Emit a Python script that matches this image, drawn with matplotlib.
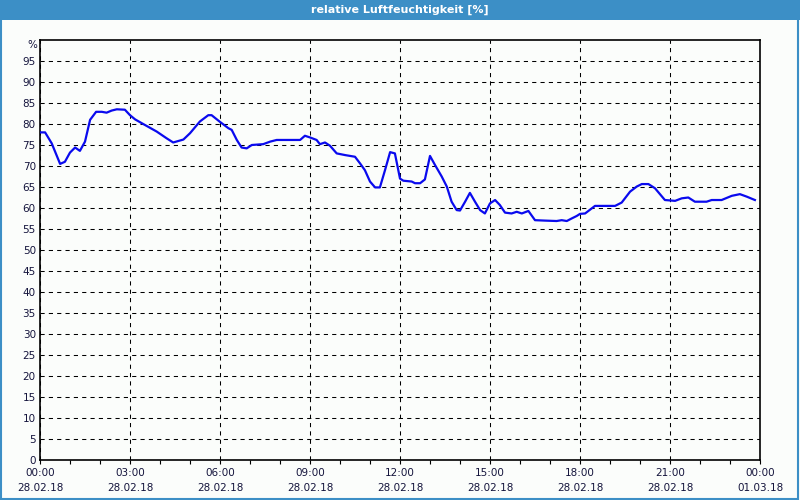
import matplotlib.pyplot as plt
from matplotlib.patches import Rectangle

# Data: hours since 28.02.18 00:00, relative humidity in %
hours = [0.0, 0.17, 0.39, 0.67, 0.83, 1.0, 1.17, 1.33, 1.5, 1.67, 1.87, 2.06, 2.22,
         2.39, 2.56, 2.83, 3.0, 3.17, 3.44, 3.89, 4.22, 4.44, 4.78, 5.0, 5.33, 5.61,
         5.72, 6.0, 6.28, 6.39, 6.56, 6.72, 6.89, 7.06, 7.44, 7.67, 7.89, 8.67, 8.83,
         9.0, 9.22, 9.33, 9.5, 9.67, 9.89, 10.17, 10.5, 10.67, 10.83, 11.0, 11.17,
         11.33, 11.5, 11.67, 11.83, 12.0, 12.11, 12.39, 12.5, 12.67, 12.83, 13.0,
         13.17, 13.39, 13.56, 13.72, 13.89, 14.0, 14.17, 14.33, 14.5, 14.67, 14.83,
         15.0, 15.17, 15.33, 15.5, 15.72, 15.89, 16.06, 16.28, 16.5, 16.83, 17.22,
         17.39, 17.56, 17.72, 17.89, 18.0, 18.17, 18.5, 19.17, 19.39, 19.67, 19.89,
         20.06, 20.28, 20.5, 20.83, 21.17, 21.39, 21.61, 21.83, 22.22, 22.39, 22.72,
         23.06, 23.33, 23.56, 23.83]
humidity = [78.0, 78.0, 75.4, 70.5, 71.0, 73.2, 74.4, 73.6, 75.8, 81.0, 82.9, 82.9, 82.7,
            83.2, 83.5, 83.4, 82.1, 81.1, 80.0, 78.2, 76.6, 75.6, 76.3, 77.8, 80.6, 82.1,
            82.1, 80.5, 79.0, 78.6, 76.2, 74.4, 74.2, 75.0, 75.2, 75.8, 76.2, 76.2, 77.2,
            76.8, 76.2, 75.2, 75.6, 74.8, 73.0, 72.6, 72.2, 70.6, 69.0, 66.3, 64.9,
            64.9, 69.0, 73.3, 73.0, 67.0, 66.5, 66.3, 65.9, 65.9, 66.8, 72.4,
            70.2, 67.5, 65.1, 61.5, 59.5, 59.4, 61.5, 63.6, 61.5, 59.5, 58.7,
            61.1, 61.9, 60.7, 58.9, 58.7, 59.1, 58.7, 59.3, 57.1, 57.0, 56.9,
            57.1, 56.9, 57.5, 58.1, 58.6, 58.7, 60.5, 60.5, 61.3, 63.9, 65.1,
            65.7, 65.7, 64.7, 61.9, 61.7, 62.3, 62.5, 61.5, 61.5, 61.9, 61.9,
            62.9, 63.3, 62.7, 61.9]

tick_hours = list(range(0, 25, 3))
tick_labels = ['00:00\n28.02.18', '03:00\n28.02.18', '06:00\n28.02.18', '09:00\n28.02.18',
               '12:00\n28.02.18', '15:00\n28.02.18', '18:00\n28.02.18', '21:00\n28.02.18',
               '00:00\n01.03.18']
y_ticks = list(range(0, 100, 5))

text_color = '#14143c'
bar_color = '#3c8fc6'

fig = plt.figure(figsize=(8, 5), dpi=100, facecolor='#fbfdfb')

# title bar and window frame
fig.patches.append(Rectangle((0, 0.96), 1, 0.04, transform=fig.transFigure,
                             facecolor=bar_color, edgecolor='none', zorder=0))
fig.patches.append(Rectangle((0.001, 0.002), 0.997, 0.996, transform=fig.transFigure,
                             facecolor='none', edgecolor=bar_color, linewidth=1.5, zorder=0))
fig.text(0.5, 0.98, 'relative Luftfeuchtigkeit [%]', color='white', fontsize=8,
         fontweight='bold', ha='center', va='center')

ax = fig.add_axes([0.05, 0.08, 0.90, 0.84])
ax.set_facecolor('#fbfdfb')
ax.plot(hours, humidity, color='#0a0aee', linewidth=1.6, zorder=3)

ax.set_xlim(0, 24)
ax.set_ylim(0, 100)
ax.set_xticks(tick_hours)
ax.set_xticklabels(tick_labels, fontsize=7.5, color=text_color, linespacing=1.6)
ax.set_xticks(range(0, 25), minor=True)
ax.set_yticks(y_ticks)
ax.set_yticklabels([str(v) for v in y_ticks], fontsize=7.5, color=text_color)
ax.tick_params(axis='x', which='both', direction='out', length=3, width=0.8, pad=3)
ax.tick_params(axis='y', length=0, pad=3)
ax.text(-0.004, 98.8, '%', transform=ax.get_yaxis_transform(), fontsize=7.5,
        color=text_color, ha='right', va='center')

ax.grid(True, which='major', color='black', linestyle=(0, (4, 4)), linewidth=0.75)
for s in ax.spines.values():
    s.set_linewidth(1.2)
    s.set_color('black')

fig.savefig('out.png', dpi=100, facecolor=fig.get_facecolor())
